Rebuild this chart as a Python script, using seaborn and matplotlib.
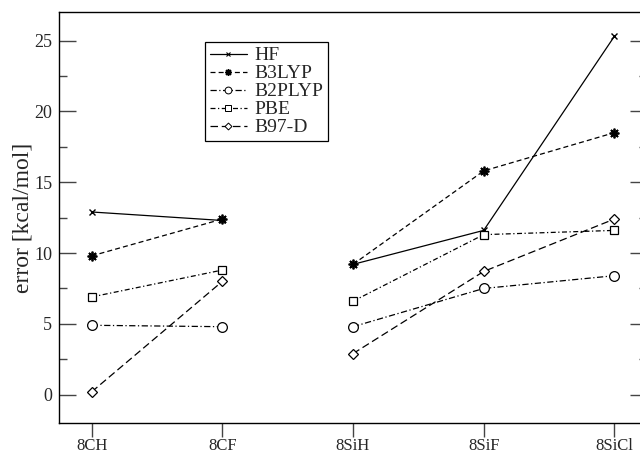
import matplotlib
matplotlib.use("Agg")
import matplotlib.pyplot as plt
import seaborn as sns
import pandas as pd
from matplotlib.ticker import MultipleLocator
from matplotlib.lines import Line2D

sns.set_theme(style="ticks")
plt.rcParams["font.family"] = ["Liberation Serif", "DejaVu Serif"]

compounds = ["8CH", "8CF", "8SiH", "8SiF", "8SiCl"]
methods = ["HF", "B3LYP", "B2PLYP", "PBE", "B97-D"]
hf = [12.9, 12.3, 9.2, 11.6, 25.3]
b3lyp = [9.8, 12.4, 9.2, 15.8, 18.5]
b2plyp = [4.9, 4.8, 4.8, 7.5, 8.4]
pbe = [6.9, 8.8, 6.6, 11.3, 11.6]
b97d = [0.2, 8.0, 2.9, 8.7, 12.4]
# carbon and silicon compounds are drawn as separate, unconnected groups
blocks = ["C", "C", "Si", "Si", "Si"]

values = {"HF": hf, "B3LYP": b3lyp, "B2PLYP": b2plyp, "PBE": pbe, "B97-D": b97d}
rows = []
for m in methods:
    for i, (c, v, b) in enumerate(zip(compounds, values[m], blocks)):
        rows.append({"method": m, "compound": c, "pos": i, "error": v, "block": b})
df = pd.DataFrame(rows)

styles = {
    "HF": dict(ls="-", marker="x", ms=5, mew=1.0, mfc="black"),
    "B3LYP": dict(ls=(0, (4, 2.5)), marker=(8, 2, 0), ms=7, mew=1.3, mfc="black"),
    "B2PLYP": dict(ls=(0, (5, 2, 1, 2)), marker="o", ms=7, mew=0.9, mfc="white"),
    "PBE": dict(ls=(0, (4, 2, 1, 2)), marker="s", ms=6, mew=0.9, mfc="white"),
    "B97-D": dict(ls=(0, (6, 3)), marker="D", ms=5, mew=0.9, mfc="white"),
}

fig = plt.figure(figsize=(6.4, 4.53), dpi=100)
ax = fig.add_axes([59 / 640, 30 / 453, 588 / 640, 410.7 / 453])

for m in methods:
    st = styles[m]
    for b in ["C", "Si"]:
        sub = df[(df.method == m) & (df.block == b)]
        sns.lineplot(data=sub, x="pos", y="error", ax=ax, color="black",
                     linewidth=0.9, linestyle=st["ls"], marker=st["marker"],
                     markersize=st["ms"], markeredgewidth=st["mew"],
                     markerfacecolor=st["mfc"], markeredgecolor="black",
                     sort=False, estimator=None, legend=False)

ax.set_xlim(-0.25, 4.25)
ax.set_ylim(-2, 27)
ax.set_xticks(range(len(compounds)))
ax.set_xticklabels(compounds)
ax.yaxis.set_major_locator(MultipleLocator(5))
ax.yaxis.set_minor_locator(MultipleLocator(2.5))
ax.tick_params(axis="y", which="major", direction="in", length=12, width=1,
               right=True, labelsize=13, pad=5, color="#444444")
ax.tick_params(axis="y", which="minor", direction="in", length=6, width=1,
               right=True, color="#444444")
ax.tick_params(axis="x", which="major", direction="out", length=10, width=1,
               labelsize=12, pad=0.5, color="#444444", top=False)
ax.set_xlabel("")
ax.set_ylabel("error [kcal/mol]", fontsize=17)
ax.yaxis.set_label_coords((34 - 59) / 588, 0.5)
for sp in ax.spines.values():
    sp.set_linewidth(1.0)
    sp.set_color("black")

handles = []
for m in methods:
    st = styles[m]
    handles.append(Line2D([], [], color="black", linewidth=0.9,
                          linestyle=st["ls"], marker=st["marker"],
                          markersize=st["ms"] * 0.7, markeredgewidth=st["mew"] * 0.8,
                          markerfacecolor=st["mfc"], markeredgecolor="black"))
leg = ax.legend(handles, methods, loc="upper left",
                bbox_to_anchor=((205 - 59) / 588, (423 - 42) / 410.7),
                fontsize=14, frameon=True, fancybox=False, edgecolor="black",
                handlelength=1.9, handletextpad=0.4, labelspacing=0.02,
                borderpad=0.25, borderaxespad=0, framealpha=1)
leg.get_frame().set_linewidth(0.9)

fig.savefig("out.png", dpi=100)
